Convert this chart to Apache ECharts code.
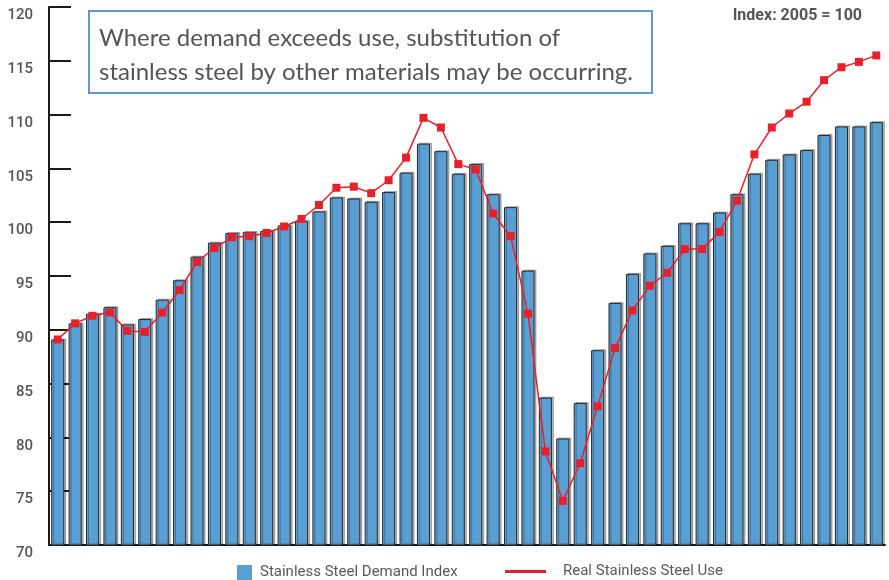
<!DOCTYPE html>
<html>
<head>
<meta charset="utf-8">
<script src="https://cdn.jsdelivr.net/npm/echarts@6/dist/echarts.min.js"></script>
<style>
  html, body { margin: 0; padding: 0; background: #fff; }
  #chart { width: 889px; height: 580px; }
</style>
</head>
<body>
<div id="chart"></div>
<script>
// periods (quarters, unlabelled on the chart)
var periods = [
  'Q01', 'Q02', 'Q03', 'Q04', 'Q05', 'Q06', 'Q07', 'Q08', 'Q09', 'Q10', 'Q11', 'Q12',
  'Q13', 'Q14', 'Q15', 'Q16', 'Q17', 'Q18', 'Q19', 'Q20', 'Q21', 'Q22', 'Q23', 'Q24',
  'Q25', 'Q26', 'Q27', 'Q28', 'Q29', 'Q30', 'Q31', 'Q32', 'Q33', 'Q34', 'Q35', 'Q36',
  'Q37', 'Q38', 'Q39', 'Q40', 'Q41', 'Q42', 'Q43', 'Q44', 'Q45', 'Q46', 'Q47', 'Q48'
];

var demandIndex = [
  89.1, 90.6, 91.5, 92.1, 90.5, 91.0, 92.8, 94.6, 96.8, 98.1, 99.0, 99.1,
  99.2, 99.7, 100.1, 101.0, 102.3, 102.2, 101.9, 102.8, 104.6, 107.3, 106.6, 104.5,
  105.4, 102.6, 101.4, 95.5, 83.7, 79.9, 83.2, 88.1, 92.5, 95.2, 97.1, 97.8,
  99.9, 99.9, 100.9, 102.6, 104.5, 105.8, 106.3, 106.7, 108.1, 108.9, 108.9, 109.3
];

var realUse = [
  89.1, 90.6, 91.3, 91.6, 89.9, 89.8, 91.6, 93.7, 96.3, 97.6, 98.6, 98.7,
  99.0, 99.6, 100.3, 101.6, 103.2, 103.3, 102.7, 103.9, 106.0, 109.7, 108.8, 105.4,
  104.9, 100.8, 98.7, 91.5, 78.7, 74.1, 77.6, 82.9, 88.3, 91.8, 94.1, 95.3,
  97.5, 97.5, 99.1, 102.0, 106.3, 108.8, 110.1, 111.2, 113.2, 114.4, 114.9, 115.5
];

var myChart = echarts.init(document.getElementById('chart'));

var option = {
  animation: false,
  grid: { left: 49, right: 4, top: 7, bottom: 35 },
  legend: [{
    data: ['Stainless Steel Demand Index'],
    left: 237, top: 565, padding: 0,
    itemWidth: 15, itemHeight: 15,
    icon: 'rect',
    itemStyle: { borderWidth: 0, shadowColor: 'transparent' },
    textStyle: { fontFamily: 'Roboto', fontSize: 15, color: '#5a5a5a', padding: [0, 0, 0, 3] }
  }, {
    data: ['Real Stainless Steel Use'],
    left: 505, top: 564, padding: 0,
    itemWidth: 41, itemHeight: 3,
    icon: 'rect',
    textStyle: { fontFamily: 'Roboto', fontSize: 15, color: '#5a5a5a', padding: [0, 0, 0, 12] }
  }],
  xAxis: {
    type: 'category',
    data: periods,
    axisLine: { lineStyle: { color: '#1a1a1a', width: 2 } },
    axisTick: { show: false },
    axisLabel: { show: false }
  },
  yAxis: {
    type: 'value',
    min: 70, max: 120, interval: 5,
    splitLine: { show: false },
    axisLine: { show: true, lineStyle: { color: '#1a1a1a', width: 2 } },
    axisTick: { show: true, inside: true, length: 22, lineStyle: { color: '#1a1a1a', width: 2 } },
    axisLabel: {
      margin: 16,
      verticalAlign: 'top',
      padding: [1, 0, 0, 0],
      fontFamily: 'Roboto',
      fontSize: 15,
      fontWeight: 500,
      color: '#555'
    }
  },
  series: [{
    name: 'Stainless Steel Demand Index',
    type: 'bar',
    data: demandIndex,
    barCategoryGap: '25%',
    itemStyle: {
      color: '#5a9fd4',
      borderColor: '#2a2a2a',
      borderWidth: 1,
      shadowColor: 'rgba(0,0,0,0.28)',
      shadowOffsetX: 2,
      shadowOffsetY: -1,
      shadowBlur: 0
    }
  }, {
    name: 'Real Stainless Steel Use',
    type: 'line',
    data: realUse,
    z: 5,
    symbol: 'rect',
    symbolSize: 8,
    showSymbol: true,
    lineStyle: { color: '#e8202a', width: 1.5 },
    itemStyle: { color: '#e8202a' }
  }],
  graphic: [{
    type: 'rect',
    left: 88, top: 10,
    shape: { width: 563, height: 82 },
    style: { fill: '#fff', stroke: '#5b9bd5', lineWidth: 2 },
    z: 10
  }, {
    type: 'text',
    left: 99, top: 21,
    style: {
      text: 'Where demand exceeds use, substitution of\nstainless steel by other materials may be occurring.',
      fontFamily: 'Lato',
      fontSize: 24,
      lineHeight: 34,
      fill: '#555'
    },
    z: 11
  }, {
    type: 'text',
    right: 27, top: 8,
    style: {
      text: 'Index: 2005 = 100',
      fontFamily: 'Roboto',
      fontSize: 16,
      fontWeight: 'bold',
      fill: '#555'
    },
    z: 11
  }]
};

myChart.setOption(option);
</script>
</body>
</html>
